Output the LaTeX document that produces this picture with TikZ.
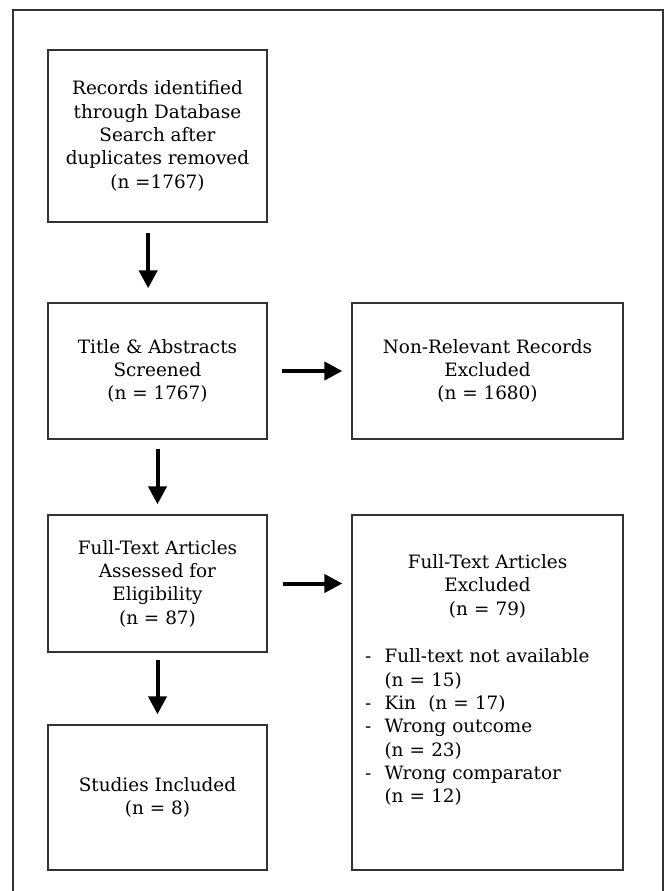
\documentclass[tikz,border=0pt]{standalone}
\usepackage{fontspec}
\setmainfont{DejaVu Serif}
\usetikzlibrary{arrows.meta}
\colorlet{background}{white}
\colorlet{penColor}{black!80}
\tikzset{
  box/.style={draw=penColor, line width=1pt, align=center, inner sep=0pt,
    minimum width=164.25pt, font=\fontsize{13.8}{17.5}\selectfont},
  widebox/.style={box, minimum width=203.25pt},
  arr/.style={-{Triangle[length=13.5pt,width=13.5pt]}, line width=3pt, black}
}

\begin{document}
\begin{tikzpicture}[x=0.75pt,y=-0.75pt]
  \useasboundingbox (0,0) rectangle (667,891);
  \draw[penColor, line width=1pt] (13,891) -- (13,10) -- (663,10) -- (663,891);% open frame

  \node[box, minimum height=129pt] (records) at (157.5,136)
    {Records identified\\through Database\\Search after\\duplicates removed\\(n =1767)};
  \node[box, minimum height=102pt] (screened) at (157.5,371)
    {Title \& Abstracts\\Screened\\(n = 1767)};
  \node[widebox, minimum height=102pt] (nonrel) at (487.5,371)
    {Non-Relevant Records\\Excluded\\(n = 1680)};
  \node[box, minimum height=102.75pt] (assessed) at (157.5,583.5)
    {Full-Text Articles\\Assessed for\\Eligibility\\(n = 87)};
  \node[box, minimum height=108.75pt] (included) at (157.5,797.5)
    {Studies Included\\(n = 8)};
  \node[widebox, align=left, text width=183.75pt, text height=40pt, text depth=226.25pt] (ftexcl) at (487.5,692.5)
    {{\centering Full-Text Articles\\Excluded\\(n = 79)\par}
     \vspace{20.5pt}
     \begin{tabular}{@{}l@{\hspace{10pt}}l@{}}
       - & Full-text not available\\
         & (n = 15)\\
       - & Kin\ \ (n = 17)\\
       - & Wrong outcome\\
         & (n = 23)\\
       - & Wrong comparator\\
         & (n = 12)
     \end{tabular}};

  \draw[arr] ([xshift=-7pt,yshift=-7.5pt]records.south) -- ([xshift=-7pt,yshift=10.5pt]screened.north);
  \draw[arr] ([yshift=-6.75pt]screened.south) -- ([yshift=7.5pt]assessed.north);
  \draw[arr] ([yshift=-5.25pt]assessed.south) -- ([yshift=7.5pt]included.north);
  \draw[arr] ([xshift=10.5pt]screened.east) -- ([xshift=-6.75pt]nonrel.west);
  \draw[arr] ([xshift=11.25pt]assessed.east) -- ([xshift=-6.75pt]assessed.east -| ftexcl.west);
\end{tikzpicture}
\end{document}
